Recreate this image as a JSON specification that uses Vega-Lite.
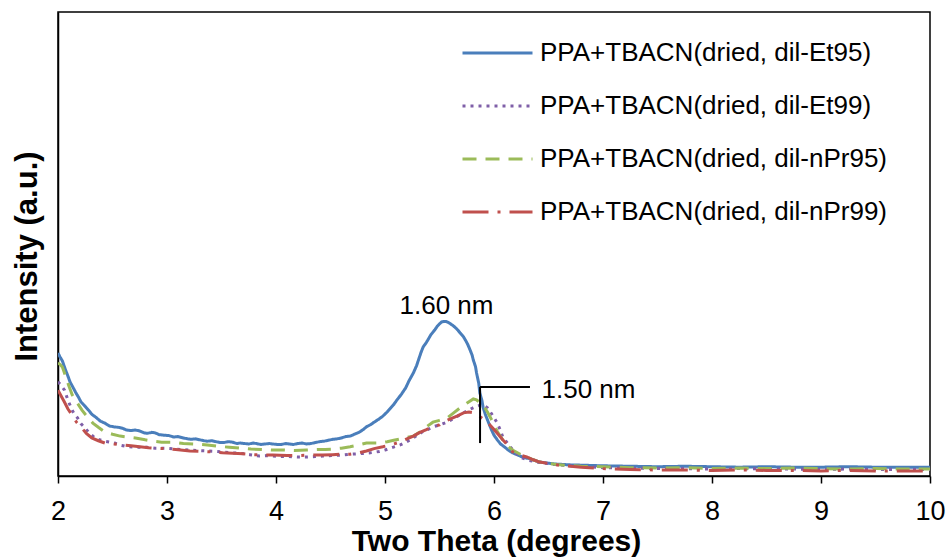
{
  "$schema": "https://vega.github.io/schema/vega-lite/v6.json",
  "width": 872,
  "height": 464,
  "autosize": {"type": "none"},
  "padding": {"left": 58, "top": 12, "right": 20, "bottom": 81},
  "background": "white",
  "config": {
    "view": {"stroke": "#000", "strokeWidth": 1.5},
    "font": "Liberation Sans",
    "axis": {"domainColor": "#000", "domainWidth": 1.5, "tickColor": "#000", "tickWidth": 1.5, "labelColor": "#000", "titleColor": "#000", "labelFont": "Liberation Sans", "titleFont": "Liberation Sans", "grid": false},
    "legend": {"labelFont": "Liberation Sans"}
  },
  "datasets": {
    "curves": [
      {"s":"PPA+TBACN(dried, dil-Et95)","x":2.00,"y":26.5},{"s":"PPA+TBACN(dried, dil-Et95)","x":2.02,"y":25.6},{"s":"PPA+TBACN(dried, dil-Et95)","x":2.04,"y":24.8},{"s":"PPA+TBACN(dried, dil-Et95)","x":2.07,"y":22.8},{"s":"PPA+TBACN(dried, dil-Et95)","x":2.09,"y":21.6},{"s":"PPA+TBACN(dried, dil-Et95)","x":2.11,"y":20.3},{"s":"PPA+TBACN(dried, dil-Et95)","x":2.14,"y":19.0},{"s":"PPA+TBACN(dried, dil-Et95)","x":2.16,"y":18.1},{"s":"PPA+TBACN(dried, dil-Et95)","x":2.19,"y":16.9},{"s":"PPA+TBACN(dried, dil-Et95)","x":2.21,"y":16.0},{"s":"PPA+TBACN(dried, dil-Et95)","x":2.25,"y":15.0},{"s":"PPA+TBACN(dried, dil-Et95)","x":2.28,"y":14.2},{"s":"PPA+TBACN(dried, dil-Et95)","x":2.31,"y":13.3},{"s":"PPA+TBACN(dried, dil-Et95)","x":2.35,"y":12.6},{"s":"PPA+TBACN(dried, dil-Et95)","x":2.39,"y":11.8},{"s":"PPA+TBACN(dried, dil-Et95)","x":2.43,"y":11.4},{"s":"PPA+TBACN(dried, dil-Et95)","x":2.47,"y":10.8},{"s":"PPA+TBACN(dried, dil-Et95)","x":2.51,"y":10.6},{"s":"PPA+TBACN(dried, dil-Et95)","x":2.55,"y":10.5},{"s":"PPA+TBACN(dried, dil-Et95)","x":2.59,"y":10.3},{"s":"PPA+TBACN(dried, dil-Et95)","x":2.63,"y":9.9},{"s":"PPA+TBACN(dried, dil-Et95)","x":2.67,"y":9.8},{"s":"PPA+TBACN(dried, dil-Et95)","x":2.71,"y":9.9},{"s":"PPA+TBACN(dried, dil-Et95)","x":2.75,"y":9.7},{"s":"PPA+TBACN(dried, dil-Et95)","x":2.79,"y":9.3},{"s":"PPA+TBACN(dried, dil-Et95)","x":2.82,"y":9.2},{"s":"PPA+TBACN(dried, dil-Et95)","x":2.86,"y":9.4},{"s":"PPA+TBACN(dried, dil-Et95)","x":2.89,"y":9.3},{"s":"PPA+TBACN(dried, dil-Et95)","x":2.93,"y":8.9},{"s":"PPA+TBACN(dried, dil-Et95)","x":2.97,"y":8.8},{"s":"PPA+TBACN(dried, dil-Et95)","x":3.02,"y":8.7},{"s":"PPA+TBACN(dried, dil-Et95)","x":3.06,"y":8.4},{"s":"PPA+TBACN(dried, dil-Et95)","x":3.10,"y":8.5},{"s":"PPA+TBACN(dried, dil-Et95)","x":3.15,"y":8.2},{"s":"PPA+TBACN(dried, dil-Et95)","x":3.19,"y":8.0},{"s":"PPA+TBACN(dried, dil-Et95)","x":3.22,"y":7.9},{"s":"PPA+TBACN(dried, dil-Et95)","x":3.26,"y":8.0},{"s":"PPA+TBACN(dried, dil-Et95)","x":3.30,"y":7.8},{"s":"PPA+TBACN(dried, dil-Et95)","x":3.34,"y":7.6},{"s":"PPA+TBACN(dried, dil-Et95)","x":3.37,"y":7.5},{"s":"PPA+TBACN(dried, dil-Et95)","x":3.41,"y":7.6},{"s":"PPA+TBACN(dried, dil-Et95)","x":3.45,"y":7.4},{"s":"PPA+TBACN(dried, dil-Et95)","x":3.49,"y":7.2},{"s":"PPA+TBACN(dried, dil-Et95)","x":3.52,"y":7.2},{"s":"PPA+TBACN(dried, dil-Et95)","x":3.56,"y":7.4},{"s":"PPA+TBACN(dried, dil-Et95)","x":3.60,"y":7.3},{"s":"PPA+TBACN(dried, dil-Et95)","x":3.64,"y":7.0},{"s":"PPA+TBACN(dried, dil-Et95)","x":3.67,"y":7.1},{"s":"PPA+TBACN(dried, dil-Et95)","x":3.71,"y":7.0},{"s":"PPA+TBACN(dried, dil-Et95)","x":3.75,"y":6.9},{"s":"PPA+TBACN(dried, dil-Et95)","x":3.79,"y":7.1},{"s":"PPA+TBACN(dried, dil-Et95)","x":3.82,"y":7.0},{"s":"PPA+TBACN(dried, dil-Et95)","x":3.86,"y":6.8},{"s":"PPA+TBACN(dried, dil-Et95)","x":3.90,"y":6.9},{"s":"PPA+TBACN(dried, dil-Et95)","x":3.94,"y":7.0},{"s":"PPA+TBACN(dried, dil-Et95)","x":3.97,"y":6.9},{"s":"PPA+TBACN(dried, dil-Et95)","x":4.01,"y":6.8},{"s":"PPA+TBACN(dried, dil-Et95)","x":4.05,"y":6.8},{"s":"PPA+TBACN(dried, dil-Et95)","x":4.09,"y":7.0},{"s":"PPA+TBACN(dried, dil-Et95)","x":4.12,"y":6.9},{"s":"PPA+TBACN(dried, dil-Et95)","x":4.16,"y":6.8},{"s":"PPA+TBACN(dried, dil-Et95)","x":4.20,"y":7.0},{"s":"PPA+TBACN(dried, dil-Et95)","x":4.24,"y":7.1},{"s":"PPA+TBACN(dried, dil-Et95)","x":4.28,"y":6.9},{"s":"PPA+TBACN(dried, dil-Et95)","x":4.32,"y":7.0},{"s":"PPA+TBACN(dried, dil-Et95)","x":4.36,"y":7.2},{"s":"PPA+TBACN(dried, dil-Et95)","x":4.40,"y":7.4},{"s":"PPA+TBACN(dried, dil-Et95)","x":4.44,"y":7.5},{"s":"PPA+TBACN(dried, dil-Et95)","x":4.48,"y":7.7},{"s":"PPA+TBACN(dried, dil-Et95)","x":4.52,"y":7.9},{"s":"PPA+TBACN(dried, dil-Et95)","x":4.56,"y":8.0},{"s":"PPA+TBACN(dried, dil-Et95)","x":4.60,"y":8.2},{"s":"PPA+TBACN(dried, dil-Et95)","x":4.64,"y":8.5},{"s":"PPA+TBACN(dried, dil-Et95)","x":4.68,"y":8.6},{"s":"PPA+TBACN(dried, dil-Et95)","x":4.72,"y":9.0},{"s":"PPA+TBACN(dried, dil-Et95)","x":4.76,"y":9.4},{"s":"PPA+TBACN(dried, dil-Et95)","x":4.80,"y":10.0},{"s":"PPA+TBACN(dried, dil-Et95)","x":4.83,"y":10.6},{"s":"PPA+TBACN(dried, dil-Et95)","x":4.87,"y":11.1},{"s":"PPA+TBACN(dried, dil-Et95)","x":4.90,"y":11.6},{"s":"PPA+TBACN(dried, dil-Et95)","x":4.94,"y":12.2},{"s":"PPA+TBACN(dried, dil-Et95)","x":4.98,"y":12.9},{"s":"PPA+TBACN(dried, dil-Et95)","x":5.02,"y":13.8},{"s":"PPA+TBACN(dried, dil-Et95)","x":5.05,"y":14.6},{"s":"PPA+TBACN(dried, dil-Et95)","x":5.08,"y":15.4},{"s":"PPA+TBACN(dried, dil-Et95)","x":5.11,"y":16.4},{"s":"PPA+TBACN(dried, dil-Et95)","x":5.15,"y":17.6},{"s":"PPA+TBACN(dried, dil-Et95)","x":5.19,"y":19.0},{"s":"PPA+TBACN(dried, dil-Et95)","x":5.22,"y":20.5},{"s":"PPA+TBACN(dried, dil-Et95)","x":5.26,"y":22.2},{"s":"PPA+TBACN(dried, dil-Et95)","x":5.29,"y":23.8},{"s":"PPA+TBACN(dried, dil-Et95)","x":5.31,"y":25.2},{"s":"PPA+TBACN(dried, dil-Et95)","x":5.33,"y":26.6},{"s":"PPA+TBACN(dried, dil-Et95)","x":5.35,"y":27.8},{"s":"PPA+TBACN(dried, dil-Et95)","x":5.38,"y":28.8},{"s":"PPA+TBACN(dried, dil-Et95)","x":5.40,"y":29.6},{"s":"PPA+TBACN(dried, dil-Et95)","x":5.42,"y":30.4},{"s":"PPA+TBACN(dried, dil-Et95)","x":5.44,"y":31.0},{"s":"PPA+TBACN(dried, dil-Et95)","x":5.46,"y":31.6},{"s":"PPA+TBACN(dried, dil-Et95)","x":5.48,"y":32.3},{"s":"PPA+TBACN(dried, dil-Et95)","x":5.50,"y":32.8},{"s":"PPA+TBACN(dried, dil-Et95)","x":5.52,"y":33.2},{"s":"PPA+TBACN(dried, dil-Et95)","x":5.54,"y":33.3},{"s":"PPA+TBACN(dried, dil-Et95)","x":5.56,"y":33.3},{"s":"PPA+TBACN(dried, dil-Et95)","x":5.58,"y":33.1},{"s":"PPA+TBACN(dried, dil-Et95)","x":5.60,"y":32.8},{"s":"PPA+TBACN(dried, dil-Et95)","x":5.62,"y":32.5},{"s":"PPA+TBACN(dried, dil-Et95)","x":5.65,"y":31.9},{"s":"PPA+TBACN(dried, dil-Et95)","x":5.67,"y":31.4},{"s":"PPA+TBACN(dried, dil-Et95)","x":5.69,"y":30.8},{"s":"PPA+TBACN(dried, dil-Et95)","x":5.72,"y":30.0},{"s":"PPA+TBACN(dried, dil-Et95)","x":5.74,"y":29.2},{"s":"PPA+TBACN(dried, dil-Et95)","x":5.76,"y":28.3},{"s":"PPA+TBACN(dried, dil-Et95)","x":5.78,"y":27.2},{"s":"PPA+TBACN(dried, dil-Et95)","x":5.80,"y":26.0},{"s":"PPA+TBACN(dried, dil-Et95)","x":5.81,"y":25.0},{"s":"PPA+TBACN(dried, dil-Et95)","x":5.83,"y":23.6},{"s":"PPA+TBACN(dried, dil-Et95)","x":5.84,"y":22.2},{"s":"PPA+TBACN(dried, dil-Et95)","x":5.86,"y":20.0},{"s":"PPA+TBACN(dried, dil-Et95)","x":5.87,"y":17.9},{"s":"PPA+TBACN(dried, dil-Et95)","x":5.89,"y":16.2},{"s":"PPA+TBACN(dried, dil-Et95)","x":5.90,"y":14.8},{"s":"PPA+TBACN(dried, dil-Et95)","x":5.92,"y":13.3},{"s":"PPA+TBACN(dried, dil-Et95)","x":5.94,"y":12.1},{"s":"PPA+TBACN(dried, dil-Et95)","x":5.96,"y":10.9},{"s":"PPA+TBACN(dried, dil-Et95)","x":5.98,"y":9.8},{"s":"PPA+TBACN(dried, dil-Et95)","x":6.00,"y":8.8},{"s":"PPA+TBACN(dried, dil-Et95)","x":6.03,"y":7.8},{"s":"PPA+TBACN(dried, dil-Et95)","x":6.06,"y":6.9},{"s":"PPA+TBACN(dried, dil-Et95)","x":6.10,"y":6.2},{"s":"PPA+TBACN(dried, dil-Et95)","x":6.13,"y":5.6},{"s":"PPA+TBACN(dried, dil-Et95)","x":6.17,"y":5.0},{"s":"PPA+TBACN(dried, dil-Et95)","x":6.21,"y":4.6},{"s":"PPA+TBACN(dried, dil-Et95)","x":6.25,"y":4.2},{"s":"PPA+TBACN(dried, dil-Et95)","x":6.29,"y":3.9},{"s":"PPA+TBACN(dried, dil-Et95)","x":6.33,"y":3.7},{"s":"PPA+TBACN(dried, dil-Et95)","x":6.38,"y":3.3},{"s":"PPA+TBACN(dried, dil-Et95)","x":6.42,"y":3.0},{"s":"PPA+TBACN(dried, dil-Et95)","x":6.55,"y":2.6},{"s":"PPA+TBACN(dried, dil-Et95)","x":6.70,"y":2.4},{"s":"PPA+TBACN(dried, dil-Et95)","x":6.85,"y":2.3},{"s":"PPA+TBACN(dried, dil-Et95)","x":7.00,"y":2.2},{"s":"PPA+TBACN(dried, dil-Et95)","x":7.25,"y":2.1},{"s":"PPA+TBACN(dried, dil-Et95)","x":7.50,"y":2.0},{"s":"PPA+TBACN(dried, dil-Et95)","x":7.75,"y":2.1},{"s":"PPA+TBACN(dried, dil-Et95)","x":8.00,"y":2.0},{"s":"PPA+TBACN(dried, dil-Et95)","x":8.25,"y":1.9},{"s":"PPA+TBACN(dried, dil-Et95)","x":8.50,"y":2.0},{"s":"PPA+TBACN(dried, dil-Et95)","x":8.75,"y":1.9},{"s":"PPA+TBACN(dried, dil-Et95)","x":9.00,"y":1.9},{"s":"PPA+TBACN(dried, dil-Et95)","x":9.25,"y":2.0},{"s":"PPA+TBACN(dried, dil-Et95)","x":9.50,"y":1.9},{"s":"PPA+TBACN(dried, dil-Et95)","x":9.75,"y":1.9},{"s":"PPA+TBACN(dried, dil-Et95)","x":10.00,"y":1.9},

      {"s":"PPA+TBACN(dried, dil-Et99)","x":2.00,"y":20.3},{"s":"PPA+TBACN(dried, dil-Et99)","x":2.03,"y":19.5},{"s":"PPA+TBACN(dried, dil-Et99)","x":2.06,"y":18.5},{"s":"PPA+TBACN(dried, dil-Et99)","x":2.09,"y":16.4},{"s":"PPA+TBACN(dried, dil-Et99)","x":2.13,"y":14.2},{"s":"PPA+TBACN(dried, dil-Et99)","x":2.15,"y":13.3},{"s":"PPA+TBACN(dried, dil-Et99)","x":2.18,"y":12.5},{"s":"PPA+TBACN(dried, dil-Et99)","x":2.21,"y":11.3},{"s":"PPA+TBACN(dried, dil-Et99)","x":2.25,"y":10.3},{"s":"PPA+TBACN(dried, dil-Et99)","x":2.29,"y":9.2},{"s":"PPA+TBACN(dried, dil-Et99)","x":2.34,"y":8.2},{"s":"PPA+TBACN(dried, dil-Et99)","x":2.38,"y":7.8},{"s":"PPA+TBACN(dried, dil-Et99)","x":2.43,"y":7.5},{"s":"PPA+TBACN(dried, dil-Et99)","x":2.48,"y":7.3},{"s":"PPA+TBACN(dried, dil-Et99)","x":2.52,"y":7.1},{"s":"PPA+TBACN(dried, dil-Et99)","x":2.58,"y":6.6},{"s":"PPA+TBACN(dried, dil-Et99)","x":2.64,"y":6.3},{"s":"PPA+TBACN(dried, dil-Et99)","x":2.72,"y":6.2},{"s":"PPA+TBACN(dried, dil-Et99)","x":2.80,"y":6.25},{"s":"PPA+TBACN(dried, dil-Et99)","x":2.89,"y":6.0},{"s":"PPA+TBACN(dried, dil-Et99)","x":2.98,"y":6.0},{"s":"PPA+TBACN(dried, dil-Et99)","x":3.08,"y":5.8},{"s":"PPA+TBACN(dried, dil-Et99)","x":3.20,"y":5.6},{"s":"PPA+TBACN(dried, dil-Et99)","x":3.28,"y":5.5},{"s":"PPA+TBACN(dried, dil-Et99)","x":3.37,"y":5.4},{"s":"PPA+TBACN(dried, dil-Et99)","x":3.45,"y":5.3},{"s":"PPA+TBACN(dried, dil-Et99)","x":3.50,"y":5.2},{"s":"PPA+TBACN(dried, dil-Et99)","x":3.58,"y":5.0},{"s":"PPA+TBACN(dried, dil-Et99)","x":3.67,"y":4.9},{"s":"PPA+TBACN(dried, dil-Et99)","x":3.76,"y":4.6},{"s":"PPA+TBACN(dried, dil-Et99)","x":3.85,"y":4.3},{"s":"PPA+TBACN(dried, dil-Et99)","x":3.92,"y":4.4},{"s":"PPA+TBACN(dried, dil-Et99)","x":3.97,"y":4.3},{"s":"PPA+TBACN(dried, dil-Et99)","x":4.05,"y":4.2},{"s":"PPA+TBACN(dried, dil-Et99)","x":4.10,"y":4.2},{"s":"PPA+TBACN(dried, dil-Et99)","x":4.20,"y":4.1},{"s":"PPA+TBACN(dried, dil-Et99)","x":4.28,"y":4.1},{"s":"PPA+TBACN(dried, dil-Et99)","x":4.36,"y":4.2},{"s":"PPA+TBACN(dried, dil-Et99)","x":4.43,"y":4.3},{"s":"PPA+TBACN(dried, dil-Et99)","x":4.52,"y":4.4},{"s":"PPA+TBACN(dried, dil-Et99)","x":4.59,"y":4.5},{"s":"PPA+TBACN(dried, dil-Et99)","x":4.68,"y":4.7},{"s":"PPA+TBACN(dried, dil-Et99)","x":4.76,"y":4.8},{"s":"PPA+TBACN(dried, dil-Et99)","x":4.83,"y":4.9},{"s":"PPA+TBACN(dried, dil-Et99)","x":4.90,"y":5.1},{"s":"PPA+TBACN(dried, dil-Et99)","x":4.95,"y":5.3},{"s":"PPA+TBACN(dried, dil-Et99)","x":5.00,"y":5.6},{"s":"PPA+TBACN(dried, dil-Et99)","x":5.05,"y":6.0},{"s":"PPA+TBACN(dried, dil-Et99)","x":5.10,"y":6.4},{"s":"PPA+TBACN(dried, dil-Et99)","x":5.14,"y":6.7},{"s":"PPA+TBACN(dried, dil-Et99)","x":5.20,"y":7.4},{"s":"PPA+TBACN(dried, dil-Et99)","x":5.26,"y":8.2},{"s":"PPA+TBACN(dried, dil-Et99)","x":5.30,"y":8.9},{"s":"PPA+TBACN(dried, dil-Et99)","x":5.35,"y":9.6},{"s":"PPA+TBACN(dried, dil-Et99)","x":5.40,"y":10.1},{"s":"PPA+TBACN(dried, dil-Et99)","x":5.44,"y":10.6},{"s":"PPA+TBACN(dried, dil-Et99)","x":5.50,"y":11.0},{"s":"PPA+TBACN(dried, dil-Et99)","x":5.57,"y":11.6},{"s":"PPA+TBACN(dried, dil-Et99)","x":5.63,"y":12.4},{"s":"PPA+TBACN(dried, dil-Et99)","x":5.69,"y":13.2},{"s":"PPA+TBACN(dried, dil-Et99)","x":5.75,"y":14.0},{"s":"PPA+TBACN(dried, dil-Et99)","x":5.80,"y":14.6},{"s":"PPA+TBACN(dried, dil-Et99)","x":5.85,"y":15.1},{"s":"PPA+TBACN(dried, dil-Et99)","x":5.88,"y":15.3},{"s":"PPA+TBACN(dried, dil-Et99)","x":5.91,"y":15.2},{"s":"PPA+TBACN(dried, dil-Et99)","x":5.94,"y":14.7},{"s":"PPA+TBACN(dried, dil-Et99)","x":5.97,"y":13.7},{"s":"PPA+TBACN(dried, dil-Et99)","x":6.00,"y":12.6},{"s":"PPA+TBACN(dried, dil-Et99)","x":6.03,"y":11.4},{"s":"PPA+TBACN(dried, dil-Et99)","x":6.06,"y":9.8},{"s":"PPA+TBACN(dried, dil-Et99)","x":6.08,"y":8.4},{"s":"PPA+TBACN(dried, dil-Et99)","x":6.12,"y":7.2},{"s":"PPA+TBACN(dried, dil-Et99)","x":6.15,"y":6.25},{"s":"PPA+TBACN(dried, dil-Et99)","x":6.20,"y":5.0},{"s":"PPA+TBACN(dried, dil-Et99)","x":6.24,"y":4.1},{"s":"PPA+TBACN(dried, dil-Et99)","x":6.30,"y":3.5},{"s":"PPA+TBACN(dried, dil-Et99)","x":6.39,"y":3.0},{"s":"PPA+TBACN(dried, dil-Et99)","x":6.55,"y":2.5},{"s":"PPA+TBACN(dried, dil-Et99)","x":6.70,"y":2.2},{"s":"PPA+TBACN(dried, dil-Et99)","x":6.85,"y":2.0},{"s":"PPA+TBACN(dried, dil-Et99)","x":7.00,"y":1.8},{"s":"PPA+TBACN(dried, dil-Et99)","x":7.25,"y":1.7},{"s":"PPA+TBACN(dried, dil-Et99)","x":7.50,"y":1.6},{"s":"PPA+TBACN(dried, dil-Et99)","x":7.75,"y":1.6},{"s":"PPA+TBACN(dried, dil-Et99)","x":8.00,"y":1.5},{"s":"PPA+TBACN(dried, dil-Et99)","x":8.25,"y":1.6},{"s":"PPA+TBACN(dried, dil-Et99)","x":8.50,"y":1.5},{"s":"PPA+TBACN(dried, dil-Et99)","x":8.75,"y":1.5},{"s":"PPA+TBACN(dried, dil-Et99)","x":9.00,"y":1.4},{"s":"PPA+TBACN(dried, dil-Et99)","x":9.25,"y":1.5},{"s":"PPA+TBACN(dried, dil-Et99)","x":9.50,"y":1.4},{"s":"PPA+TBACN(dried, dil-Et99)","x":9.75,"y":1.4},{"s":"PPA+TBACN(dried, dil-Et99)","x":10.00,"y":1.4},

      {"s":"PPA+TBACN(dried, dil-nPr95)","x":2.00,"y":24.4},{"s":"PPA+TBACN(dried, dil-nPr95)","x":2.02,"y":24.0},{"s":"PPA+TBACN(dried, dil-nPr95)","x":2.04,"y":23.5},{"s":"PPA+TBACN(dried, dil-nPr95)","x":2.07,"y":21.5},{"s":"PPA+TBACN(dried, dil-nPr95)","x":2.10,"y":19.4},{"s":"PPA+TBACN(dried, dil-nPr95)","x":2.13,"y":17.5},{"s":"PPA+TBACN(dried, dil-nPr95)","x":2.17,"y":16.0},{"s":"PPA+TBACN(dried, dil-nPr95)","x":2.22,"y":14.2},{"s":"PPA+TBACN(dried, dil-nPr95)","x":2.25,"y":13.3},{"s":"PPA+TBACN(dried, dil-nPr95)","x":2.28,"y":12.5},{"s":"PPA+TBACN(dried, dil-nPr95)","x":2.32,"y":11.4},{"s":"PPA+TBACN(dried, dil-nPr95)","x":2.37,"y":10.5},{"s":"PPA+TBACN(dried, dil-nPr95)","x":2.43,"y":9.5},{"s":"PPA+TBACN(dried, dil-nPr95)","x":2.50,"y":9.0},{"s":"PPA+TBACN(dried, dil-nPr95)","x":2.57,"y":8.6},{"s":"PPA+TBACN(dried, dil-nPr95)","x":2.64,"y":8.4},{"s":"PPA+TBACN(dried, dil-nPr95)","x":2.71,"y":8.2},{"s":"PPA+TBACN(dried, dil-nPr95)","x":2.80,"y":7.8},{"s":"PPA+TBACN(dried, dil-nPr95)","x":2.88,"y":7.5},{"s":"PPA+TBACN(dried, dil-nPr95)","x":2.95,"y":7.3},{"s":"PPA+TBACN(dried, dil-nPr95)","x":3.06,"y":7.3},{"s":"PPA+TBACN(dried, dil-nPr95)","x":3.15,"y":7.0},{"s":"PPA+TBACN(dried, dil-nPr95)","x":3.25,"y":6.9},{"s":"PPA+TBACN(dried, dil-nPr95)","x":3.37,"y":6.7},{"s":"PPA+TBACN(dried, dil-nPr95)","x":3.47,"y":6.4},{"s":"PPA+TBACN(dried, dil-nPr95)","x":3.57,"y":6.2},{"s":"PPA+TBACN(dried, dil-nPr95)","x":3.67,"y":6.0},{"s":"PPA+TBACN(dried, dil-nPr95)","x":3.77,"y":5.8},{"s":"PPA+TBACN(dried, dil-nPr95)","x":3.87,"y":5.7},{"s":"PPA+TBACN(dried, dil-nPr95)","x":3.97,"y":5.6},{"s":"PPA+TBACN(dried, dil-nPr95)","x":4.07,"y":5.6},{"s":"PPA+TBACN(dried, dil-nPr95)","x":4.17,"y":5.5},{"s":"PPA+TBACN(dried, dil-nPr95)","x":4.28,"y":5.6},{"s":"PPA+TBACN(dried, dil-nPr95)","x":4.38,"y":5.7},{"s":"PPA+TBACN(dried, dil-nPr95)","x":4.45,"y":5.7},{"s":"PPA+TBACN(dried, dil-nPr95)","x":4.52,"y":5.8},{"s":"PPA+TBACN(dried, dil-nPr95)","x":4.60,"y":6.0},{"s":"PPA+TBACN(dried, dil-nPr95)","x":4.68,"y":6.3},{"s":"PPA+TBACN(dried, dil-nPr95)","x":4.76,"y":6.7},{"s":"PPA+TBACN(dried, dil-nPr95)","x":4.83,"y":7.1},{"s":"PPA+TBACN(dried, dil-nPr95)","x":4.90,"y":7.1},{"s":"PPA+TBACN(dried, dil-nPr95)","x":4.95,"y":7.1},{"s":"PPA+TBACN(dried, dil-nPr95)","x":5.02,"y":7.4},{"s":"PPA+TBACN(dried, dil-nPr95)","x":5.08,"y":7.7},{"s":"PPA+TBACN(dried, dil-nPr95)","x":5.14,"y":8.0},{"s":"PPA+TBACN(dried, dil-nPr95)","x":5.20,"y":8.3},{"s":"PPA+TBACN(dried, dil-nPr95)","x":5.26,"y":8.6},{"s":"PPA+TBACN(dried, dil-nPr95)","x":5.32,"y":9.5},{"s":"PPA+TBACN(dried, dil-nPr95)","x":5.38,"y":10.6},{"s":"PPA+TBACN(dried, dil-nPr95)","x":5.44,"y":11.6},{"s":"PPA+TBACN(dried, dil-nPr95)","x":5.50,"y":12.0},{"s":"PPA+TBACN(dried, dil-nPr95)","x":5.57,"y":12.5},{"s":"PPA+TBACN(dried, dil-nPr95)","x":5.63,"y":13.6},{"s":"PPA+TBACN(dried, dil-nPr95)","x":5.69,"y":14.7},{"s":"PPA+TBACN(dried, dil-nPr95)","x":5.75,"y":15.7},{"s":"PPA+TBACN(dried, dil-nPr95)","x":5.81,"y":16.6},{"s":"PPA+TBACN(dried, dil-nPr95)","x":5.84,"y":16.4},{"s":"PPA+TBACN(dried, dil-nPr95)","x":5.87,"y":15.9},{"s":"PPA+TBACN(dried, dil-nPr95)","x":5.90,"y":15.3},{"s":"PPA+TBACN(dried, dil-nPr95)","x":5.94,"y":13.8},{"s":"PPA+TBACN(dried, dil-nPr95)","x":5.99,"y":11.6},{"s":"PPA+TBACN(dried, dil-nPr95)","x":6.03,"y":9.6},{"s":"PPA+TBACN(dried, dil-nPr95)","x":6.08,"y":7.8},{"s":"PPA+TBACN(dried, dil-nPr95)","x":6.12,"y":6.6},{"s":"PPA+TBACN(dried, dil-nPr95)","x":6.17,"y":5.6},{"s":"PPA+TBACN(dried, dil-nPr95)","x":6.24,"y":4.7},{"s":"PPA+TBACN(dried, dil-nPr95)","x":6.30,"y":4.1},{"s":"PPA+TBACN(dried, dil-nPr95)","x":6.36,"y":3.5},{"s":"PPA+TBACN(dried, dil-nPr95)","x":6.42,"y":3.0},{"s":"PPA+TBACN(dried, dil-nPr95)","x":6.60,"y":2.4},{"s":"PPA+TBACN(dried, dil-nPr95)","x":6.80,"y":2.1},{"s":"PPA+TBACN(dried, dil-nPr95)","x":7.00,"y":2.0},{"s":"PPA+TBACN(dried, dil-nPr95)","x":7.25,"y":1.8},{"s":"PPA+TBACN(dried, dil-nPr95)","x":7.50,"y":1.7},{"s":"PPA+TBACN(dried, dil-nPr95)","x":7.75,"y":1.8},{"s":"PPA+TBACN(dried, dil-nPr95)","x":8.00,"y":1.6},{"s":"PPA+TBACN(dried, dil-nPr95)","x":8.25,"y":1.7},{"s":"PPA+TBACN(dried, dil-nPr95)","x":8.50,"y":1.6},{"s":"PPA+TBACN(dried, dil-nPr95)","x":8.75,"y":1.7},{"s":"PPA+TBACN(dried, dil-nPr95)","x":9.00,"y":1.6},{"s":"PPA+TBACN(dried, dil-nPr95)","x":9.25,"y":1.5},{"s":"PPA+TBACN(dried, dil-nPr95)","x":9.50,"y":1.6},{"s":"PPA+TBACN(dried, dil-nPr95)","x":9.75,"y":1.5},{"s":"PPA+TBACN(dried, dil-nPr95)","x":10.00,"y":1.5},

      {"s":"PPA+TBACN(dried, dil-nPr99)","x":2.00,"y":18.5},{"s":"PPA+TBACN(dried, dil-nPr99)","x":2.03,"y":17.2},{"s":"PPA+TBACN(dried, dil-nPr99)","x":2.06,"y":15.9},{"s":"PPA+TBACN(dried, dil-nPr99)","x":2.09,"y":14.5},{"s":"PPA+TBACN(dried, dil-nPr99)","x":2.13,"y":13.1},{"s":"PPA+TBACN(dried, dil-nPr99)","x":2.17,"y":11.6},{"s":"PPA+TBACN(dried, dil-nPr99)","x":2.22,"y":10.3},{"s":"PPA+TBACN(dried, dil-nPr99)","x":2.26,"y":9.2},{"s":"PPA+TBACN(dried, dil-nPr99)","x":2.31,"y":8.2},{"s":"PPA+TBACN(dried, dil-nPr99)","x":2.37,"y":7.6},{"s":"PPA+TBACN(dried, dil-nPr99)","x":2.43,"y":7.1},{"s":"PPA+TBACN(dried, dil-nPr99)","x":2.51,"y":6.9},{"s":"PPA+TBACN(dried, dil-nPr99)","x":2.59,"y":6.7},{"s":"PPA+TBACN(dried, dil-nPr99)","x":2.67,"y":6.5},{"s":"PPA+TBACN(dried, dil-nPr99)","x":2.75,"y":6.3},{"s":"PPA+TBACN(dried, dil-nPr99)","x":2.83,"y":6.1},{"s":"PPA+TBACN(dried, dil-nPr99)","x":2.89,"y":6.0},{"s":"PPA+TBACN(dried, dil-nPr99)","x":2.98,"y":5.9},{"s":"PPA+TBACN(dried, dil-nPr99)","x":3.08,"y":5.7},{"s":"PPA+TBACN(dried, dil-nPr99)","x":3.21,"y":5.4},{"s":"PPA+TBACN(dried, dil-nPr99)","x":3.30,"y":5.3},{"s":"PPA+TBACN(dried, dil-nPr99)","x":3.40,"y":5.2},{"s":"PPA+TBACN(dried, dil-nPr99)","x":3.51,"y":5.0},{"s":"PPA+TBACN(dried, dil-nPr99)","x":3.60,"y":4.9},{"s":"PPA+TBACN(dried, dil-nPr99)","x":3.70,"y":4.8},{"s":"PPA+TBACN(dried, dil-nPr99)","x":3.80,"y":4.6},{"s":"PPA+TBACN(dried, dil-nPr99)","x":3.90,"y":4.5},{"s":"PPA+TBACN(dried, dil-nPr99)","x":3.97,"y":4.5},{"s":"PPA+TBACN(dried, dil-nPr99)","x":4.10,"y":4.4},{"s":"PPA+TBACN(dried, dil-nPr99)","x":4.20,"y":4.4},{"s":"PPA+TBACN(dried, dil-nPr99)","x":4.30,"y":4.5},{"s":"PPA+TBACN(dried, dil-nPr99)","x":4.43,"y":4.5},{"s":"PPA+TBACN(dried, dil-nPr99)","x":4.52,"y":4.6},{"s":"PPA+TBACN(dried, dil-nPr99)","x":4.59,"y":4.7},{"s":"PPA+TBACN(dried, dil-nPr99)","x":4.68,"y":4.7},{"s":"PPA+TBACN(dried, dil-nPr99)","x":4.76,"y":5.0},{"s":"PPA+TBACN(dried, dil-nPr99)","x":4.83,"y":5.4},{"s":"PPA+TBACN(dried, dil-nPr99)","x":4.90,"y":5.9},{"s":"PPA+TBACN(dried, dil-nPr99)","x":4.98,"y":6.3},{"s":"PPA+TBACN(dried, dil-nPr99)","x":5.05,"y":6.7},{"s":"PPA+TBACN(dried, dil-nPr99)","x":5.12,"y":7.2},{"s":"PPA+TBACN(dried, dil-nPr99)","x":5.19,"y":7.9},{"s":"PPA+TBACN(dried, dil-nPr99)","x":5.26,"y":8.6},{"s":"PPA+TBACN(dried, dil-nPr99)","x":5.32,"y":9.4},{"s":"PPA+TBACN(dried, dil-nPr99)","x":5.38,"y":10.0},{"s":"PPA+TBACN(dried, dil-nPr99)","x":5.44,"y":10.7},{"s":"PPA+TBACN(dried, dil-nPr99)","x":5.50,"y":11.0},{"s":"PPA+TBACN(dried, dil-nPr99)","x":5.53,"y":11.6},{"s":"PPA+TBACN(dried, dil-nPr99)","x":5.60,"y":12.3},{"s":"PPA+TBACN(dried, dil-nPr99)","x":5.66,"y":12.9},{"s":"PPA+TBACN(dried, dil-nPr99)","x":5.72,"y":13.6},{"s":"PPA+TBACN(dried, dil-nPr99)","x":5.77,"y":13.8},{"s":"PPA+TBACN(dried, dil-nPr99)","x":5.82,"y":13.6},{"s":"PPA+TBACN(dried, dil-nPr99)","x":5.85,"y":13.1},{"s":"PPA+TBACN(dried, dil-nPr99)","x":5.90,"y":12.3},{"s":"PPA+TBACN(dried, dil-nPr99)","x":5.95,"y":11.3},{"s":"PPA+TBACN(dried, dil-nPr99)","x":5.99,"y":10.3},{"s":"PPA+TBACN(dried, dil-nPr99)","x":6.03,"y":9.2},{"s":"PPA+TBACN(dried, dil-nPr99)","x":6.08,"y":7.8},{"s":"PPA+TBACN(dried, dil-nPr99)","x":6.12,"y":6.8},{"s":"PPA+TBACN(dried, dil-nPr99)","x":6.17,"y":5.2},{"s":"PPA+TBACN(dried, dil-nPr99)","x":6.23,"y":4.6},{"s":"PPA+TBACN(dried, dil-nPr99)","x":6.30,"y":4.1},{"s":"PPA+TBACN(dried, dil-nPr99)","x":6.36,"y":3.5},{"s":"PPA+TBACN(dried, dil-nPr99)","x":6.42,"y":3.0},{"s":"PPA+TBACN(dried, dil-nPr99)","x":6.60,"y":2.3},{"s":"PPA+TBACN(dried, dil-nPr99)","x":6.80,"y":1.9},{"s":"PPA+TBACN(dried, dil-nPr99)","x":7.00,"y":1.6},{"s":"PPA+TBACN(dried, dil-nPr99)","x":7.25,"y":1.4},{"s":"PPA+TBACN(dried, dil-nPr99)","x":7.50,"y":1.3},{"s":"PPA+TBACN(dried, dil-nPr99)","x":7.75,"y":1.3},{"s":"PPA+TBACN(dried, dil-nPr99)","x":8.00,"y":1.2},{"s":"PPA+TBACN(dried, dil-nPr99)","x":8.25,"y":1.3},{"s":"PPA+TBACN(dried, dil-nPr99)","x":8.50,"y":1.2},{"s":"PPA+TBACN(dried, dil-nPr99)","x":8.75,"y":1.2},{"s":"PPA+TBACN(dried, dil-nPr99)","x":9.00,"y":1.1},{"s":"PPA+TBACN(dried, dil-nPr99)","x":9.25,"y":1.2},{"s":"PPA+TBACN(dried, dil-nPr99)","x":9.50,"y":1.1},{"s":"PPA+TBACN(dried, dil-nPr99)","x":9.75,"y":1.1},{"s":"PPA+TBACN(dried, dil-nPr99)","x":10.00,"y":1.1}
    ]
  },
  "layer": [
    {
      "data": {"name": "curves"},
      "mark": {"type": "line", "strokeWidth": 3, "clip": true},
      "encoding": {
        "x": {"field": "x", "type": "quantitative", "scale": {"domain": [2, 10], "nice": false},
              "axis": {"values": [2,3,4,5,6,7,8,9,10], "format": "d", "tickSize": 7, "labelFontSize": 27, "labelPadding": 15, "labelFlush": false, "labelOverlap": false,
                       "title": "Two Theta (degrees)", "titleFontSize": 30, "titleFontWeight": "bold", "titleX": 438, "titleY": 74, "titleBaseline": "alphabetic", "titleAlign": "center"}},
        "y": {"field": "y", "type": "quantitative", "scale": {"domain": [0, 100], "nice": false},
              "axis": {"ticks": false, "labels": false, "title": "Intensity (a.u.)", "titleFontSize": 31, "titleFontWeight": "bold", "titleX": -31, "titleY": 244, "titleAngle": -90, "titleAlign": "center", "titleBaseline": "middle"}},
        "color": {"field": "s", "type": "nominal",
                  "scale": {"domain": ["PPA+TBACN(dried, dil-Et95)", "PPA+TBACN(dried, dil-Et99)", "PPA+TBACN(dried, dil-nPr95)", "PPA+TBACN(dried, dil-nPr99)"],
                            "range": ["#4A7EBB", "#7F5FA8", "#9BBB59", "#C0504D"]},
                  "legend": {"title": null, "orient": "none", "legendX": 403, "legendY": 30, "padding": 0, "symbolType": "stroke", "symbolSize": 4900, "symbolStrokeWidth": 3, "clipHeight": 22, "rowPadding": 27, "labelFontSize": 26, "labelOffset": 6, "labelColor": "#000", "labelLimit": 500}},
        "strokeDash": {"field": "s", "type": "nominal",
                       "scale": {"domain": ["PPA+TBACN(dried, dil-Et95)", "PPA+TBACN(dried, dil-Et99)", "PPA+TBACN(dried, dil-nPr95)", "PPA+TBACN(dried, dil-nPr99)"],
                                 "range": [[1, 0], [3, 5], [14, 9], [26, 9, 3, 9]]},
                       "legend": {"title": null, "orient": "none", "legendX": 403, "legendY": 30, "padding": 0, "symbolType": "stroke", "symbolSize": 4900, "symbolStrokeWidth": 3, "clipHeight": 22, "rowPadding": 27, "labelFontSize": 26, "labelOffset": 6, "labelColor": "#000", "labelLimit": 500}}
      }
    },
    {
      "data": {"values": [
        {"x": 5.872, "y": 19.2, "x2": 5.872, "y2": 7.1},
        {"x": 5.872, "y": 19.2, "x2": 6.33, "y2": 19.2}
      ]},
      "mark": {"type": "rule", "color": "#000", "strokeWidth": 2},
      "encoding": {
        "x": {"field": "x", "type": "quantitative"},
        "y": {"field": "y", "type": "quantitative"},
        "x2": {"field": "x2"},
        "y2": {"field": "y2"}
      }
    },
    {
      "data": {"values": [
        {"x": 5.564, "y": 36.6, "label": "1.60 nm"},
        {"x": 6.867, "y": 18.5, "label": "1.50 nm"}
      ]},
      "mark": {"type": "text", "fontSize": 26, "font": "Liberation Sans", "color": "#000", "align": "center", "baseline": "middle"},
      "encoding": {
        "x": {"field": "x", "type": "quantitative"},
        "y": {"field": "y", "type": "quantitative"},
        "text": {"field": "label"}
      }
    }
  ]
}
